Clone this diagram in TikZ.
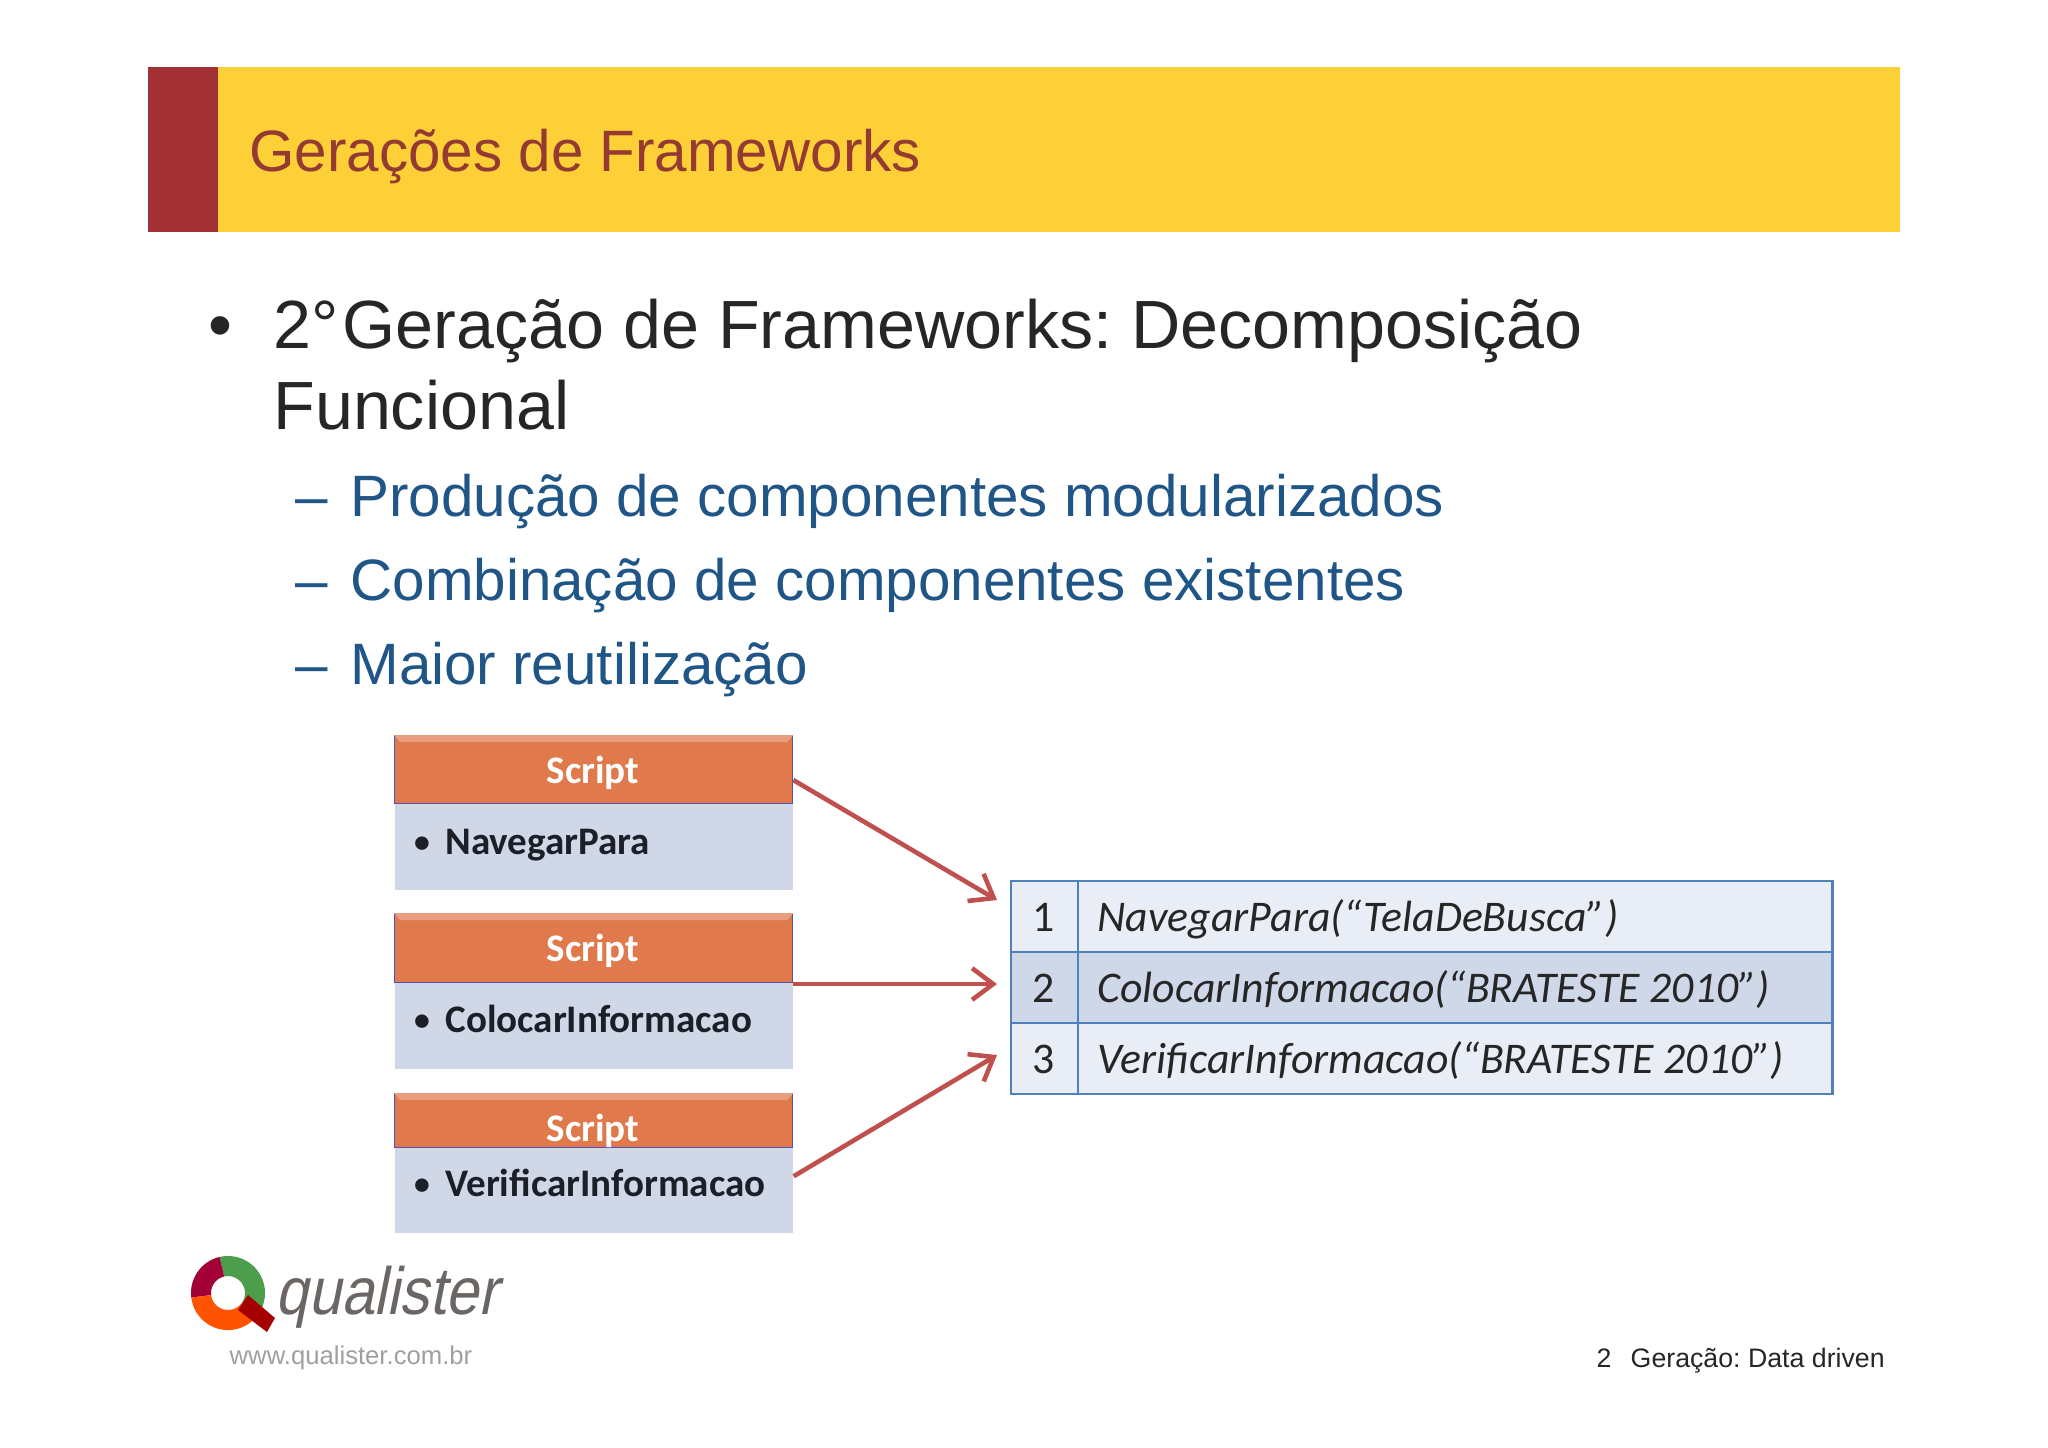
\documentclass[tikz,border=0pt]{standalone}
\usepackage{fontspec}
\setmainfont{Liberation Sans}
\newfontfamily\calibri{Carlito}
\usepackage{xcolor}
\usetikzlibrary{calc, arrows.meta}
\definecolor{bandyellow}{HTML}{FCD036}
\definecolor{bandred}{HTML}{A23035}
\definecolor{titlered}{HTML}{953A33}
\definecolor{subblue}{HTML}{1F5587}
\definecolor{headorange}{HTML}{E07A4D}
\definecolor{bodyblue}{HTML}{D0D8E8}
\definecolor{rowlight}{HTML}{E9EDF6}
\definecolor{rowdark}{HTML}{CFD8E8}
\definecolor{lineblue}{HTML}{4F81BD}
\definecolor{arrowred}{HTML}{C0504D}
\definecolor{logogray}{HTML}{6B6664}
\definecolor{darktext}{HTML}{1C1F28}
\frenchspacing

\begin{document}
\begin{tikzpicture}[x=0.01cm, y=-0.01cm]
	\tikzstyle{mainline}=[anchor=base west, text=black!85, font=\fontsize{19.4}{23}\selectfont]
	\tikzstyle{subline}=[anchor=base west, text=subblue, font=\fontsize{16.6}{20}\selectfont]
	\tikzstyle{head}=[anchor=north west, inner sep=0pt, minimum width=3.98cm, fill=headorange, draw=blue!35!gray, line width=0.3pt]
	\tikzstyle{bevel}=[fill=headorange!72!white]
	\tikzstyle{body}=[anchor=north west, inner sep=0pt, minimum width=3.98cm, minimum height=0.86cm, fill=bodyblue]
	\tikzstyle{headtext}=[anchor=base, text=white, font=\calibri\bfseries\fontsize{11.1}{13}\selectfont]
	\tikzstyle{itemtext}=[anchor=base west, text=darktext, font=\calibri\bfseries\fontsize{11.1}{13}\selectfont]
	\tikzstyle{itemdot}=[anchor=center, text=darktext, font=\calibri\bfseries\fontsize{9}{11}\selectfont]
	\tikzstyle{cell}=[anchor=north west, inner sep=0pt, minimum height=0.71cm, draw=lineblue, line width=0.6pt]
	\tikzstyle{celltext}=[anchor=base west, text=black!85, font=\calibri\itshape\fontsize{12.45}{14}\selectfont]
	\tikzstyle{cellnum}=[anchor=base, text=black!85, font=\calibri\fontsize{12.45}{14}\selectfont]
	\tikzstyle{link}=[arrowred, line width=1.3pt, -{Straight Barb[length=6pt, width=9pt, line width=1.3pt]}]

	\useasboundingbox (0,0) rectangle (2048,1447);

	\begin{scope}
		\fill [bandyellow] (218,67) rectangle (1900,232);
		\fill [bandred] (148,67) rectangle (218,232);
		\node (title) [anchor=base west, text=titlered, font=\fontsize{16.6}{20}\selectfont] at (237,171) {Gerações de Frameworks};
	\end{scope}

	\begin{scope}
		\node (mainbullet) [mainline] at (196,348) {•};
		\node (mainA) [mainline] at (261,348) {2°\hspace{1.2pt}Geração de Frameworks: Decomposição};
		\node (mainB) [mainline] at (261,429) {Funcional};
		\node (dashA) [subline] at (283,516) {–};
		\node (subA) [subline] at (338,516) {Produção de componentes modularizados};
		\node (dashB) [subline] at (283,600) {–};
		\node (subB) [subline] at (338,600) {Combinação de componentes existentes};
		\node (dashC) [subline] at (283,684) {–};
		\node (subC) [subline] at (338,684) {Maior reutilização};
	\end{scope}

	\begin{scope}
		\node (headA) [head, minimum height=0.68cm] at (394,735) {};
		\fill [bevel] (headA.north west) -- (headA.north east) -- ++(-6,7) -- ($(headA.north west)+(6,7)$) -- cycle;
		\node (bodyA) [body] at (394,803) {};
		\node (headAtext) [headtext] at (593,783) {Script};
		\node (itemAdot) [itemdot] at (422,845) {•};
		\node (itemA) [itemtext] at (433,854) {NavegarPara};

		\node (headB) [head, minimum height=0.69cm] at (394,913) {};
		\fill [bevel] (headB.north west) -- (headB.north east) -- ++(-6,7) -- ($(headB.north west)+(6,7)$) -- cycle;
		\node (bodyB) [body, minimum height=0.86cm] at (394,982) {};
		\node (headBtext) [headtext] at (593,961) {Script};
		\node (itemBdot) [itemdot] at (422,1023) {•};
		\node (itemB) [itemtext] at (433,1032) {ColocarInformacao};

		\node (headC) [head, minimum height=0.54cm] at (394,1093) {};
		\fill [bevel] (headC.north west) -- (headC.north east) -- ++(-6,7) -- ($(headC.north west)+(6,7)$) -- cycle;
		\node (headCtext) [headtext] at (593,1141) {Script};
		\node (bodyC) [body, minimum height=0.85cm] at (394,1147) {};
		\node (itemCdot) [itemdot] at (422,1187) {•};
		\node (itemC) [itemtext] at (433,1196) {VerificarInformacao};
	\end{scope}

	\begin{scope}
		\node (numA) [cell, fill=rowlight, minimum width=0.67cm] at (1010,880) {};
		\node (rowA) [cell, fill=rowlight, minimum width=7.54cm] at (1077,880) {};
		\node (numB) [cell, fill=rowdark, minimum width=0.67cm] at (1010,951) {};
		\node (rowB) [cell, fill=rowdark, minimum width=7.54cm] at (1077,951) {};
		\node (numC) [cell, fill=rowlight, minimum width=0.67cm] at (1010,1022) {};
		\node (rowC) [cell, fill=rowlight, minimum width=7.54cm] at (1077,1022) {};

		\node (numAtext) [cellnum] at (1044,931) {1};
		\node (numBtext) [cellnum] at (1044,1002) {2};
		\node (numCtext) [cellnum] at (1044,1073) {3};
		\node (rowAtext) [celltext] at (1085,931) {NavegarPara(“TelaDeBusca”)};
		\node (rowBtext) [celltext] at (1085,1002) {ColocarInformacao(“BRATESTE 2010”)};
		\node (rowCtext) [celltext] at (1085,1073) {VerificarInformacao(“BRATESTE 2010”)};
	\end{scope}

	\begin{scope}
		\coordinate (tipA) at (997,900);
		\coordinate (tipB) at (997,984);
		\coordinate (tipC) at (997,1055);
		\draw [link] (headA.-3) -- (tipA);
		\draw [link] (tipB -| headB.east) -- (tipB);
		\draw [link] (bodyC.4) -- (tipC);
	\end{scope}

	\begin{scope}
		\def\qo{0.37cm};
		\def\qi{0.17cm};
		\coordinate (qc) at (228,1293);
		\fill [green!45!black!70!white] ($(qc)+(103:\qo)$) arc [start angle=103, end angle=-40, radius=\qo] -- ($(qc)+(-40:\qi)$) arc [start angle=-40, end angle=103, radius=\qi] -- cycle;
		\fill [purple!85!black] ($(qc)+(103:\qo)$) arc [start angle=103, end angle=187, radius=\qo] -- ($(qc)+(187:\qi)$) arc [start angle=187, end angle=103, radius=\qi] -- cycle;
		\fill [orange!65!red] ($(qc)+(187:\qo)$) arc [start angle=187, end angle=320, radius=\qo] -- ($(qc)+(320:\qi)$) arc [start angle=320, end angle=187, radius=\qi] -- cycle;
		\fill [red!65!black] (248,1295) -- (275,1318) -- (267,1332) -- (238,1310) -- cycle;
		\node (logotext) [anchor=base west, inner sep=0pt, text=logogray, font=\fontsize{19}{22}\selectfont, xslant=0.2] at (275,1314) {\scalebox{0.88}[1]{qualister}};
		\node (logourl) [anchor=base west, inner sep=0pt, text=gray!75, font=\fontsize{7.3}{9}\selectfont] at (229,1364) {www.qualister.com.br};
	\end{scope}

	\begin{scope}
		\node (pagenum) [anchor=base west, inner sep=0pt, font=\fontsize{7.6}{10}\selectfont, text=black!85] at (1596,1367) {2};
		\node (footer) [anchor=base west, inner sep=0pt, font=\fontsize{7.6}{10}\selectfont, text=black!85] at (1630,1367) {Geração: Data driven};
	\end{scope}
\end{tikzpicture}
\end{document}
